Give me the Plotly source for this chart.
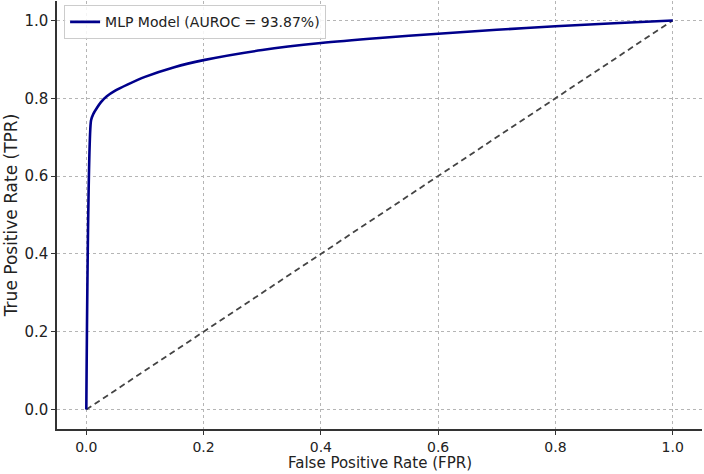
import plotly.graph_objects as go

fpr = [0.0, 0.008, 0.012, 0.018, 0.025, 0.035, 0.05, 0.07, 0.1, 0.15, 0.2, 0.3, 0.4, 0.5, 0.6, 0.7, 0.8, 0.9, 1.0]
tpr = [0.0, 0.743, 0.76, 0.775, 0.79, 0.805, 0.82, 0.835, 0.855, 0.88, 0.898, 0.924, 0.942, 0.955, 0.966, 0.976, 0.985, 0.993, 1.0]
diag_x = [0.0, 1.0]
diag_y = [0.0, 1.0]
model_label = "MLP Model (AUROC = 93.87%)"
x_title = "False Positive Rate (FPR)"
y_title = "True Positive Rate (TPR)"
ticks = [0.0, 0.2, 0.4, 0.6, 0.8, 1.0]
tick_text = ["0.0", "0.2", "0.4", "0.6", "0.8", "1.0"]

fig = go.Figure()
fig.add_trace(go.Scatter(x=diag_x, y=diag_y, mode="lines",
                         line=dict(color="#444444", width=1.8, dash="6px,4px"),
                         showlegend=False, hoverinfo="skip"))
fig.add_trace(go.Scatter(x=fpr, y=tpr, mode="lines", name=model_label,
                         line=dict(color="#00008B", width=2.6, shape="spline", smoothing=0.6)))

font_family = "DejaVu Sans"
axis_common = dict(
    showgrid=True, gridcolor="#b5b5b5", griddash="3px,3px", gridwidth=1,
    zeroline=False, showline=True, linecolor="#333333", linewidth=1.5,
    ticks="outside", ticklen=4, tickwidth=1.2, tickcolor="#333333",
    tickvals=ticks, ticktext=tick_text,
    mirror=False,
)

B = 45
H_PLOT = 474 - 1 - B

fig.update_layout(
    width=704, height=474,
    margin=dict(l=57, r=2, t=1, b=B),
    paper_bgcolor="white", plot_bgcolor="white",
    font=dict(family=font_family, color="#222222"),
    xaxis=dict(range=[-0.05, 1.05], tickfont=dict(family=font_family, size=14, color="#222222"), **axis_common),
    yaxis=dict(range=[-0.05, 1.05], tickfont=dict(family=font_family, size=15, color="#222222"),
               title=dict(text=y_title, font=dict(size=17), standoff=2), **axis_common),
    legend=dict(x=0.011, y=0.99, xanchor="left", yanchor="top",
                bgcolor="rgba(255,255,255,0.85)", bordercolor="#cccccc", borderwidth=1,
                font=dict(family=font_family, size=14, color="#222222"),
                itemwidth=30, tracegroupgap=0),
)

fig.add_annotation(text=x_title, xref="paper", yref="paper", x=0.5, y=-B / H_PLOT,
                   xanchor="center", yanchor="bottom", showarrow=False,
                   font=dict(family=font_family, size=15, color="#222222"))

fig.write_html("out.html")
